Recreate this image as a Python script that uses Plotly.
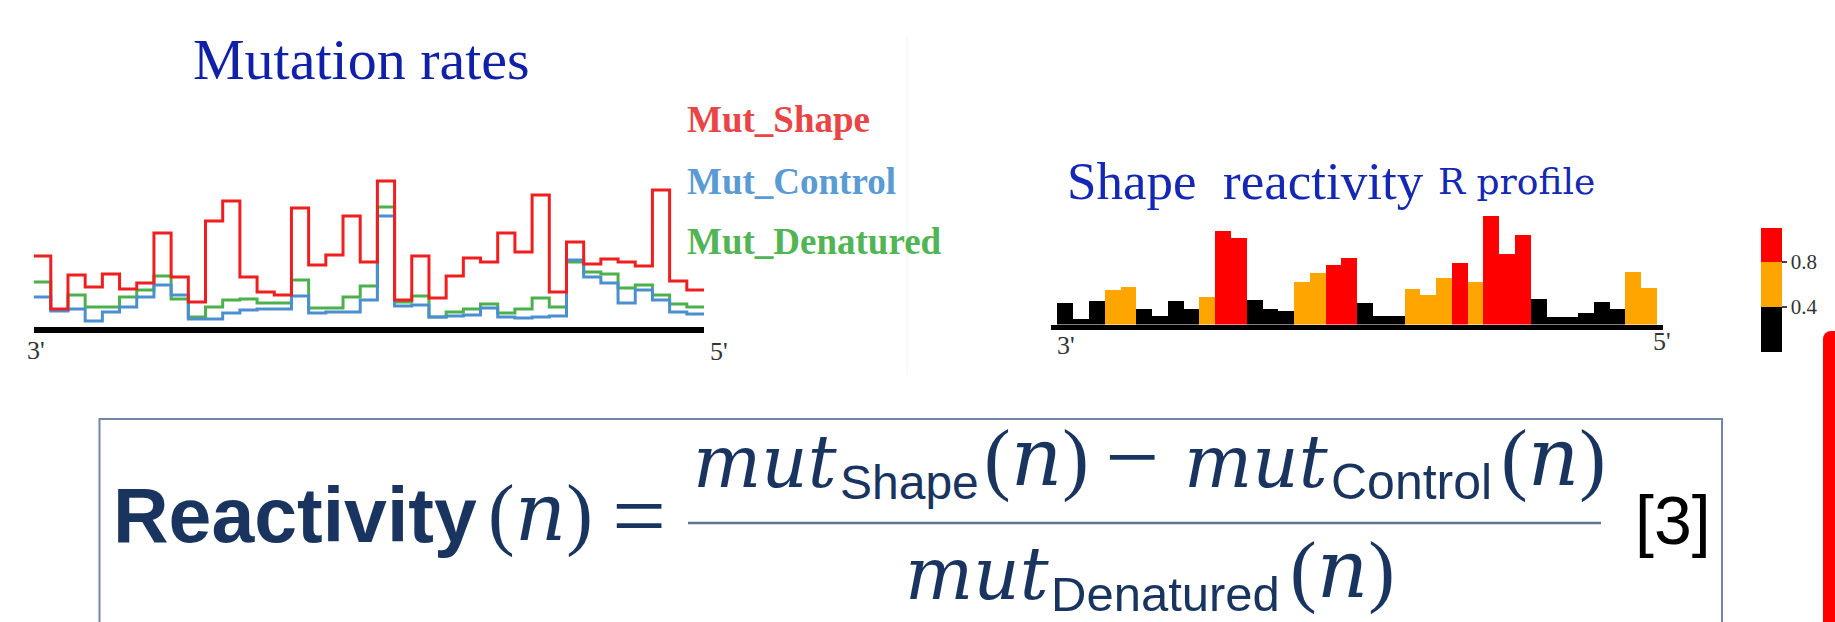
import plotly.graph_objects as go

W, H = 1835, 622

# ---------------- data ----------------
# Left panel: mutation rates per nucleotide (arbitrary units), 3' -> 5'
mut_shape = [7.1, 1.8, 5.2, 4.0, 5.3, 3.8, 4.4, 9.4, 5.0, 2.5, 10.6, 12.6, 5.0, 3.5, 3.2,
             11.9, 6.2, 7.2, 11.1, 6.5, 14.6, 2.7, 7.1, 2.9, 5.1, 6.9, 6.5, 9.4, 7.5, 13.2,
             3.5, 8.5, 6.3, 6.8, 6.5, 6.1, 13.7, 4.6, 3.7]
mut_control = [3.0, 1.6, 1.8, 0.6, 1.5, 2.0, 3.0, 4.2, 3.2, 0.8, 0.8, 1.4, 1.7, 1.8, 1.8,
               3.1, 1.4, 1.5, 1.5, 2.7, 11.1, 2.1, 2.2, 1.0, 1.1, 1.2, 1.9, 1.0, 0.9, 1.0,
               1.1, 6.7, 5.0, 4.4, 2.4, 3.7, 2.7, 1.5, 1.3]
mut_denatured = [4.5, 1.7, 3.2, 2.0, 2.0, 3.0, 3.7, 5.1, 2.8, 1.0, 2.0, 2.7, 2.8, 2.4, 2.4,
                 4.7, 1.9, 1.9, 3.0, 4.1, 12.0, 2.5, 3.1, 1.0, 1.5, 1.8, 2.3, 1.4, 1.8, 2.9,
                 2.0, 6.5, 5.5, 5.3, 3.9, 4.2, 3.2, 2.3, 2.0]

# Right panel: SHAPE reactivity profile
reactivity = [0.32, 0.08, 0.35, 0.52, 0.57, 0.23, 0.13, 0.36, 0.23, 0.42, 1.42, 1.31, 0.37,
              0.24, 0.20, 0.64, 0.78, 0.90, 1.01, 0.33, 0.13, 0.13, 0.54, 0.44, 0.70, 0.93,
              0.64, 1.65, 1.07, 1.35, 0.39, 0.12, 0.12, 0.18, 0.34, 0.23, 0.79, 0.56]

thresholds = [0.4, 0.8]
threshold_labels = ["0.4", "0.8"]
cbar_min, cbar_max = 0.0, 1.1

series_names = ["Mut_Shape", "Mut_Control", "Mut_Denatured"]
series_colors = ["#f01e1e", "#4b8fd1", "#4cb04c"]
label_colors = ["#e84646", "#5a9bd3", "#52b454"]

# ---------------- helpers ----------------
def px(x):
    return x / W

def py(y):
    return 1 - y / H

DESC = {"Liberation Serif": 0.216, "Liberation Sans": 0.212, "DejaVu Serif": 0.236}

def text_at(text, x, base, size, family, color, bold=False):
    return dict(text=("<b>%s</b>" % text) if bold else text,
                x=px(x), y=py(base + DESC[family] * size),
                xref="paper", yref="paper", xanchor="left", yanchor="bottom",
                showarrow=False, borderpad=0,
                font=dict(family=family, size=size, color=color))

fig = go.Figure()

# step lines (drawn under the red one)
n_bins = len(mut_shape)
edges = list(range(n_bins + 1))
for vals, col in [(mut_denatured, series_colors[2]), (mut_control, series_colors[1]),
                  (mut_shape, series_colors[0])]:
    fig.add_trace(go.Scatter(x=edges, y=vals + [vals[-1]], mode="lines",
                             line=dict(color=col, width=3, shape="hv"),
                             hoverinfo="skip", showlegend=False, xaxis="x", yaxis="y"))

# reactivity bars coloured through a discrete colour scale
t1 = thresholds[0] / cbar_max
t2 = thresholds[1] / cbar_max
cscale = [[0, "#000000"], [t1, "#000000"], [t1, "#ffa500"], [t2, "#ffa500"],
          [t2, "#ff0000"], [1, "#ff0000"]]
fig.add_trace(go.Bar(x=list(range(len(reactivity))), y=reactivity, width=1,
                     xaxis="x2", yaxis="y2", hoverinfo="skip", showlegend=False,
                     marker=dict(color=reactivity, colorscale=cscale, cmin=cbar_min, cmax=cbar_max,
                                 line=dict(width=0),
                                 colorbar=dict(x=px(1761), xanchor="left", y=py(290), yanchor="middle",
                                               thickness=21, thicknessmode="pixels",
                                               len=124, lenmode="pixels", xpad=0, ypad=0,
                                               outlinewidth=0, tickvals=thresholds,
                                               ticktext=threshold_labels, ticks="outside",
                                               ticklen=5, tickcolor="#444", tickwidth=1.5,
                                               tickfont=dict(family="Liberation Serif", size=21,
                                                             color="#333")))))

ann = []
# titles
ann.append(text_at("Mutation rates", 192, 80, 58, "Liberation Serif", "#1020a8"))
ann.append(text_at("Shape&nbsp; reactivity", 1066, 200, 53, "Liberation Serif", "#1428b4"))
ann.append(text_at("R profile", 1437, 195, 36, "DejaVu Serif", "#1428b4"))
# series labels
for name, col, base in zip(series_names, label_colors, [133, 195, 255]):
    ann.append(text_at(name, 686, base, 37, "Liberation Serif", col, bold=True))
# 3' / 5' ends
for t, x, b in [("3'", 26, 360), ("5'", 709, 361), ("3'", 1056, 355), ("5'", 1652, 351)]:
    ann.append(text_at(t, x, b, 26, "Liberation Serif", "#333333"))

# equation
NAVY = "#18345f"
paren_n = '(<span style="font-family:DejaVu Serif"><i>n</i></span>)'
ann.append(text_at("Reactivity", 112, 543, 77, "Liberation Sans", NAVY, bold=True))
ann.append(text_at(paren_n, 487, 543, 80, "Liberation Serif", NAVY))
ann.append(text_at("=", 611, 549, 96, "Liberation Serif", NAVY))
ann.append(text_at("<i>mut</i>", 692, 488, 72, "DejaVu Serif", NAVY))
ann.append(text_at("Shape", 839, 500, 48, "Liberation Sans", NAVY))
ann.append(text_at(paren_n, 983, 488, 80, "Liberation Serif", NAVY))
ann.append(text_at("\u2212", 1104, 490, 96, "Liberation Serif", NAVY))
ann.append(text_at("<i>mut</i>", 1183, 488, 72, "DejaVu Serif", NAVY))
ann.append(text_at("Control", 1330, 500, 50, "Liberation Sans", NAVY))
ann.append(text_at(paren_n, 1500, 488, 80, "Liberation Serif", NAVY))
ann.append(text_at("<i>mut</i>", 904, 600, 72, "DejaVu Serif", NAVY))
ann.append(text_at("Denatured", 1050, 612, 49, "Liberation Sans", NAVY))
ann.append(text_at(paren_n, 1289, 600, 80, "Liberation Serif", NAVY))
ann.append(text_at("[3]", 1634, 545, 68, "Liberation Sans", "#000000"))

shapes = [
    # fraction bar
    dict(type="line", xref="paper", yref="paper", x0=px(688), x1=px(1601), y0=py(523), y1=py(523),
         line=dict(color="#5f7397", width=2.5)),
    # equation frame (bottom edge outside the picture)
    dict(type="rect", xref="paper", yref="paper", x0=px(99.5), x1=px(1722), y0=py(419), y1=py(660),
         line=dict(color="#7486a8", width=2), fillcolor="rgba(0,0,0,0)"),
    # faint separator
    dict(type="line", xref="paper", yref="paper", x0=px(907), x1=px(907), y0=py(35), y1=py(375),
         line=dict(color="#f2f2f2", width=1)),
    # red bar on the far right edge (rounded top)
    dict(type="rect", xref="paper", yref="paper", x0=px(1823), x1=px(1845), y0=py(339), y1=py(660),
         line=dict(width=0), fillcolor="#ff0000"),
    dict(type="circle", xref="paper", yref="paper", x0=px(1823), x1=px(1839), y0=py(347), y1=py(331),
         line=dict(width=0), fillcolor="#ff0000"),
    dict(type="rect", xref="paper", yref="paper", x0=px(1831), x1=px(1845), y0=py(340), y1=py(331),
         line=dict(width=0), fillcolor="#ff0000"),
]

fig.update_layout(
    width=W, height=H, margin=dict(l=0, r=0, t=0, b=0),
    paper_bgcolor="white", plot_bgcolor="rgba(0,0,0,0)",
    bargap=0,
    xaxis=dict(domain=[px(33.6), px(704)], range=[0, n_bins], showline=True, linecolor="black",
               linewidth=6, showgrid=False, zeroline=False, showticklabels=False, ticks="",
               fixedrange=True, anchor="y"),
    yaxis=dict(domain=[py(327), py(147)], range=[0, 18], visible=False, anchor="x"),
    xaxis2=dict(domain=[px(1051), px(1663)], range=[-0.91, 37.88], showline=True,
                linecolor="black", linewidth=5, showgrid=False, zeroline=False,
                showticklabels=False, ticks="", anchor="y2"),
    yaxis2=dict(domain=[py(324.5), py(324.5 - 145.2)], range=[0, 2.2], visible=False, anchor="x2"),
    annotations=ann, shapes=shapes,
)

fig.write_html("out.html", config={"staticPlot": True, "displayModeBar": False},
               post_script="document.body.style.margin='0px';document.body.style.padding='0px';"
                           "document.body.style.overflow='hidden';")
